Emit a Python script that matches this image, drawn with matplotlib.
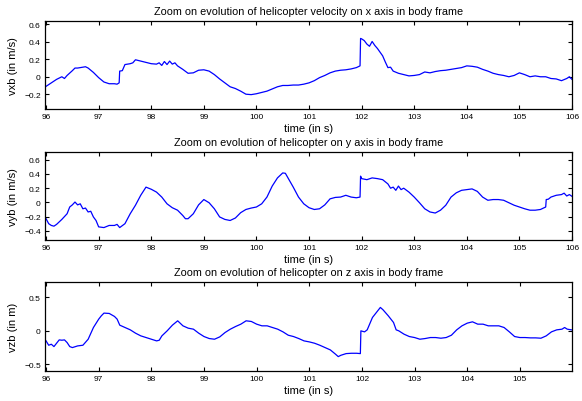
import matplotlib
matplotlib.use("Agg")
import matplotlib.pyplot as plt
from matplotlib.ticker import FormatStrFormatter, FuncFormatter

plt.rcParams['font.family'] = ['Liberation Sans', 'DejaVu Sans']

# ---- data: x velocity ----
t_vx = [96.0, 96.1, 96.2, 96.25, 96.3, 96.35, 96.4, 96.5, 96.55, 96.6, 96.7, 96.75, 96.8, 96.9,
        97.0, 97.1, 97.2, 97.3, 97.35, 97.39, 97.4, 97.45, 97.5, 97.6, 97.65, 97.7, 97.8, 97.9,
        98.0, 98.1, 98.15, 98.2, 98.25, 98.3, 98.35, 98.4, 98.45, 98.5, 98.6, 98.7, 98.8, 98.9,
        99.0, 99.1, 99.2, 99.3, 99.4, 99.5, 99.6, 99.7, 99.8, 99.9, 100.0, 100.1, 100.2, 100.3,
        100.4, 100.5, 100.6, 100.7, 100.8, 100.9, 101.0, 101.1, 101.2, 101.3, 101.4, 101.5,
        101.6, 101.7, 101.8, 101.9, 101.97, 101.98, 102.0, 102.05, 102.1, 102.15, 102.2, 102.25,
        102.3, 102.4, 102.45, 102.5, 102.55, 102.6, 102.7, 102.8, 102.9, 103.0, 103.1, 103.2,
        103.3, 103.4, 103.5, 103.6, 103.7, 103.8, 103.9, 104.0, 104.1, 104.2, 104.3, 104.4,
        104.5, 104.6, 104.7, 104.8, 104.9, 105.0, 105.1, 105.2, 105.3, 105.4, 105.5, 105.6,
        105.7, 105.8, 105.9, 105.95, 106.0]
vxb = [-0.11, -0.07, -0.03, -0.015, 0.0, -0.02, 0.015, 0.07, 0.10, 0.10, 0.11, 0.115, 0.10, 0.05,
       -0.01, -0.06, -0.08, -0.08, -0.085, -0.07, 0.065, 0.07, 0.14, 0.15, 0.16, 0.195, 0.18, 0.165,
       0.15, 0.145, 0.16, 0.13, 0.175, 0.14, 0.18, 0.145, 0.16, 0.125, 0.085, 0.04, 0.045, 0.075,
       0.08, 0.065, 0.025, -0.025, -0.07, -0.115, -0.135, -0.165, -0.2, -0.205, -0.195, -0.18, -0.165, -0.14,
       -0.115, -0.10, -0.10, -0.095, -0.095, -0.085, -0.07, -0.045, -0.01, 0.015, 0.045, 0.065,
       0.075, 0.08, 0.09, 0.105, 0.125, 0.44, 0.435, 0.415, 0.375, 0.35, 0.405, 0.36,
       0.325, 0.24, 0.17, 0.105, 0.11, 0.065, 0.04, 0.025, 0.01, 0.015, 0.025, 0.055,
       0.045, 0.06, 0.07, 0.075, 0.085, 0.095, 0.105, 0.125, 0.12, 0.11, 0.085, 0.065,
       0.04, 0.025, 0.015, 0.0, 0.015, 0.045, 0.025, 0.0, 0.01, 0.0, 0.0, -0.02,
       -0.025, -0.045, -0.02, 0.0, -0.03]

# ---- data: y velocity ----
t_vy = [96.0, 96.05, 96.1, 96.15, 96.2, 96.3, 96.4, 96.45, 96.5, 96.55, 96.6, 96.65, 96.7, 96.75,
        96.8, 96.85, 96.9, 96.95, 97.0, 97.1, 97.2, 97.3, 97.35, 97.4, 97.5, 97.6, 97.7, 97.8,
        97.9, 98.0, 98.1, 98.2, 98.3, 98.4, 98.5, 98.6, 98.65, 98.7, 98.8, 98.9, 99.0, 99.1,
        99.2, 99.3, 99.4, 99.5, 99.6, 99.7, 99.8, 99.9, 100.0, 100.1, 100.2, 100.3, 100.4, 100.5,
        100.55, 100.6, 100.7, 100.8, 100.9, 101.0, 101.1, 101.2, 101.3, 101.4, 101.5, 101.6,
        101.7, 101.8, 101.9, 101.97, 101.98, 102.0, 102.1, 102.2, 102.3, 102.4, 102.5, 102.55,
        102.6, 102.65, 102.7, 102.75, 102.8, 102.9, 103.0, 103.1, 103.2, 103.3, 103.4, 103.5,
        103.6, 103.7, 103.8, 103.9, 104.0, 104.1, 104.2, 104.3, 104.4, 104.5, 104.6, 104.7,
        104.8, 104.9, 105.0, 105.1, 105.2, 105.3, 105.4, 105.5, 105.51, 105.55, 105.6, 105.7,
        105.8, 105.85, 105.9, 105.95, 106.0]
vyb = [-0.23, -0.30, -0.325, -0.335, -0.31, -0.24, -0.16, -0.065, -0.035, 0.005, -0.035, -0.02, -0.09, -0.08,
       -0.135, -0.125, -0.205, -0.255, -0.345, -0.355, -0.325, -0.325, -0.31, -0.355, -0.30, -0.16, -0.04, 0.10,
       0.215, 0.185, 0.145, 0.075, -0.02, -0.075, -0.11, -0.185, -0.23, -0.23, -0.16, -0.035, 0.04, -0.005,
       -0.09, -0.205, -0.24, -0.255, -0.22, -0.145, -0.10, -0.08, -0.065, -0.02, 0.075, 0.23, 0.345, 0.415,
       0.41, 0.345, 0.215, 0.075, -0.02, -0.075, -0.10, -0.09, -0.035, 0.05, 0.07, 0.075,
       0.10, 0.075, 0.065, 0.075, 0.37, 0.335, 0.32, 0.345, 0.335, 0.32, 0.26, 0.20,
       0.215, 0.17, 0.23, 0.18, 0.20, 0.145, 0.075, -0.005, -0.09, -0.135, -0.15, -0.11,
       -0.04, 0.075, 0.135, 0.17, 0.18, 0.19, 0.155, 0.075, 0.03, 0.04, 0.04, 0.03,
       -0.005, -0.04, -0.065, -0.09, -0.11, -0.11, -0.10, -0.065, 0.04, 0.045, 0.075, 0.10,
       0.11, 0.13, 0.09, 0.11, 0.085]

# ---- data: z velocity ----
t_vz = [96.0, 96.05, 96.1, 96.15, 96.2, 96.25, 96.3, 96.35, 96.4, 96.45, 96.5, 96.6, 96.7, 96.8,
        96.9, 97.0, 97.05, 97.1, 97.2, 97.3, 97.35, 97.4, 97.5, 97.6, 97.7, 97.8, 97.9, 98.0,
        98.1, 98.15, 98.2, 98.3, 98.4, 98.5, 98.6, 98.7, 98.8, 98.9, 99.0, 99.1, 99.2, 99.3,
        99.4, 99.5, 99.6, 99.7, 99.8, 99.9, 100.0, 100.1, 100.2, 100.3, 100.4, 100.5, 100.6,
        100.7, 100.8, 100.9, 101.0, 101.1, 101.2, 101.3, 101.4, 101.5, 101.55, 101.6, 101.7,
        101.8, 101.9, 101.97, 101.98, 102.05, 102.1, 102.2, 102.3, 102.35, 102.4, 102.5, 102.6,
        102.65, 102.7, 102.8, 102.9, 103.0, 103.1, 103.2, 103.3, 103.4, 103.5, 103.6, 103.7,
        103.8, 103.9, 104.0, 104.1, 104.2, 104.3, 104.4, 104.5, 104.6, 104.7, 104.8, 104.9,
        105.0, 105.1, 105.2, 105.3, 105.4, 105.5, 105.6, 105.7, 105.8, 105.85, 105.9, 105.98]
vzb = [-0.15, -0.215, -0.20, -0.235, -0.185, -0.135, -0.14, -0.135, -0.175, -0.235, -0.25, -0.225, -0.215, -0.125,
       0.05, 0.175, 0.225, 0.265, 0.26, 0.215, 0.175, 0.085, 0.05, 0.015, -0.035, -0.075, -0.10, -0.125,
       -0.15, -0.14, -0.075, 0.0, 0.085, 0.15, 0.075, 0.04, 0.025, -0.035, -0.085, -0.115, -0.125, -0.09,
       -0.025, 0.025, 0.065, 0.10, 0.15, 0.14, 0.10, 0.075, 0.075, 0.05, 0.025, -0.015, -0.065,
       -0.085, -0.115, -0.15, -0.165, -0.185, -0.215, -0.25, -0.285, -0.35, -0.385, -0.365, -0.34,
       -0.335, -0.335, -0.34, 0.0, -0.015, 0.015, 0.20, 0.30, 0.35, 0.315, 0.225, 0.125,
       0.015, 0.0, -0.05, -0.085, -0.10, -0.125, -0.115, -0.10, -0.10, -0.11, -0.10, -0.065,
       0.015, 0.075, 0.115, 0.135, 0.10, 0.10, 0.075, 0.075, 0.075, 0.05, -0.015, -0.085,
       -0.10, -0.10, -0.105, -0.105, -0.11, -0.075, -0.015, 0.015, 0.025, 0.05, 0.025, 0.015]

titles = ["Zoom on evolution of helicopter velocity on x axis in body frame",
          "Zoom on evolution of helicopter on y axis in body frame",
          "Zoom on evolution of helicopter on z axis in body frame"]
ylabels = ["vxb (in m/s)", "vyb (in m/s)", "vzb (in m)"]
xlabel = "time (in s)"
xticks_12 = [96, 97, 98, 99, 100, 101, 102, 103, 104, 105, 106]
xticks_3 = [96, 97, 98, 99, 100, 101, 102, 103, 104, 105]
yticks_x = [-0.2, 0, 0.2, 0.4, 0.6]
yticks_y = [-0.4, -0.2, 0, 0.2, 0.4, 0.6]
yticks_z = [-0.5, 0, 0.5]

fig = plt.figure(figsize=(5.82, 4.02), dpi=100)
W, H = 582, 402
def rect(l, t, r, b):
    return [l / W, 1 - b / H, (r - l) / W, (b - t) / H]

axes = [fig.add_axes(rect(45, 22, 572, 110)),
        fig.add_axes(rect(45, 153, 572, 241)),
        fig.add_axes(rect(45, 283, 572, 372))]

series = [(t_vx, vxb), (t_vy, vyb), (t_vz, vzb)]
ylims = [(-0.37, 0.64), (-0.53, 0.71), (-0.60, 0.73)]
xlims = [(95.98, 106.0), (95.98, 106.0), (95.98, 105.99)]
ytks = [yticks_x, yticks_y, yticks_z]
xtks = [xticks_12, xticks_12, xticks_3]

fmt = FuncFormatter(lambda v, p: ('%g' % v).replace('-', '\u2212') if abs(v) > 1e-9 else '0')

for ax, (t, v), title, yl, ylim, xlim, yt, xt in zip(axes, series, titles, ylabels, ylims, xlims, ytks, xtks):
    ax.plot(t, v, color='#0000ff', lw=0.9)
    ax.set_xlim(*xlim)
    ax.set_ylim(*ylim)
    ax.set_xticks(xt)
    ax.set_yticks(yt)
    ax.yaxis.set_major_formatter(fmt)
    ax.tick_params(direction='in', top=True, right=True, length=3, width=0.8,
                   labelsize=6, pad=3)
    for s in ax.spines.values():
        s.set_linewidth(0.9)
    ax.set_title(title, fontsize=7.8, pad=5)
    ax.set_xlabel(xlabel, fontsize=8, labelpad=2)
    ax.set_ylabel(yl, fontsize=8)
    ax.yaxis.set_label_coords(-0.051, 0.5)

fig.savefig("out.png", dpi=100)
